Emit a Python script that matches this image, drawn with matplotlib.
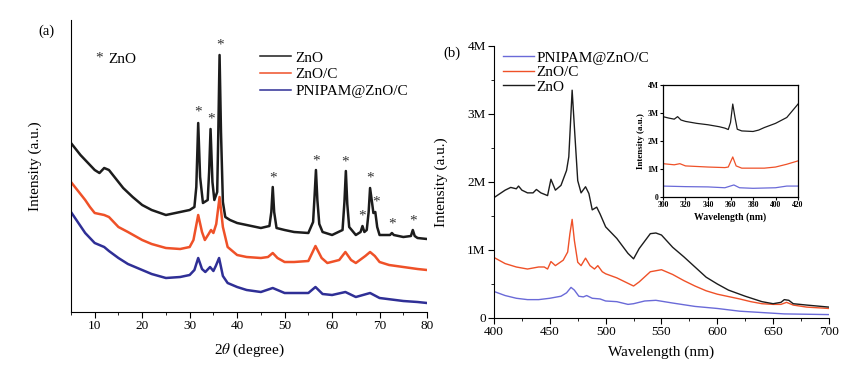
import matplotlib
matplotlib.use("Agg")
import matplotlib.pyplot as plt
from matplotlib.ticker import MultipleLocator, FuncFormatter

plt.rcParams['font.family'] = ['Liberation Serif', 'DejaVu Serif']
plt.rcParams['mathtext.fontset'] = 'stix'

# ---------------- (a) XRD data (arbitrary units) ----------------
xrd_zno_x = [5, 6, 7, 8, 9, 10, 11, 12, 13, 14, 15, 16, 18, 20, 22, 25, 28, 30, 31, 31.4,
             31.8, 32.2, 32.8, 33.8, 34.1, 34.4, 34.8, 35.2, 35.8, 36.0, 36.3, 36.6, 37.0, 37.5,
             38.5, 40, 42, 45, 46.8, 47.2, 47.5, 47.8, 48.3, 50, 52, 55, 56.0, 56.3, 56.6, 56.9,
             57.3, 58, 60, 62.2, 62.6, 62.9, 63.2, 63.6, 65, 66.0, 66.4, 66.8, 67.3, 67.7, 68.0,
             68.4, 68.7, 69.1, 69.5, 70, 72.2, 72.6, 73.0, 75, 76.6, 77.0, 77.4, 78, 80]
xrd_zno_y = [169, 163, 157, 152, 147, 142, 139, 144, 142, 136, 130, 124, 115, 107, 102, 97, 100, 102, 105, 125,
             189, 135, 109, 112, 140, 183, 130, 112, 120, 170, 257, 180, 110, 95,
             92, 89, 87, 84, 86, 100, 125, 100, 84, 82, 80, 79, 90, 115, 142, 112,
             88, 80, 77, 82, 110, 141, 108, 85, 77, 80, 86, 80, 82, 100, 124,
             110, 99, 100, 85, 77, 77, 79, 77, 75, 76, 82, 76, 74, 73]

xrd_znoc_x = [5, 6, 7, 8, 9, 10, 11, 12, 13, 14, 15, 17, 20, 22, 25, 28, 30, 30.8, 31.8, 32.6,
              33.2, 34.0, 34.5, 35.0, 35.6, 36.3, 37.0, 38, 40, 42, 45, 46.5, 47.5, 48.5, 50, 52,
              55, 56.5, 57.8, 59, 61.5, 62.8, 64, 65, 67, 68, 69, 70, 72, 75, 78, 80]
xrd_znoc_y = [130, 124, 118, 112, 105, 99, 98, 97, 95, 90, 85, 80, 72, 68, 64, 63, 65, 72, 97, 80,
              72, 78, 82, 79, 88, 115, 85, 65, 57, 55, 54, 55, 59, 54, 50, 50,
              51, 66, 54, 49, 52, 60, 52, 49, 56, 60, 56, 50, 47, 45, 43, 42]

xrd_pn_x = [5, 6, 7, 8, 9, 10, 11, 12, 13, 15, 17, 20, 22, 25, 28, 30, 31, 31.8, 32.6, 33.3,
            34.3, 35.0, 35.5, 36.2, 37.0, 38, 40, 42, 45, 47.5, 50, 52, 55, 56.5, 58, 60, 62.8,
            65, 68, 70, 75, 78, 80]
xrd_pn_y = [100, 93, 86, 79, 74, 69, 67, 65, 61, 54, 48, 42, 38, 34, 35, 37, 42, 54, 43, 40,
            45, 41, 46, 54, 36, 29, 25, 22, 20, 24, 19, 19, 19, 25, 18, 17, 20,
            15, 19, 14, 11, 10, 9]

star_x = [31.8, 34.5, 36.3, 47.6, 56.6, 62.8, 66.4, 68.0, 69.2, 72.6, 77.0]
star_y = [200, 193, 267, 134, 151, 150, 96, 134, 110, 88, 91]

# ---------------- (b) PL data (intensity, millions) ----------------
pl_zno_x = [400, 410, 415, 420, 422, 425, 430, 435, 438, 442, 448, 451, 455, 460, 465, 467, 470, 472,
            475, 478, 482, 485, 488, 492, 495, 500, 510, 520, 525, 530, 540, 545, 550, 560, 570, 580,
            590, 600, 610, 620, 625, 640, 650, 657, 660, 664, 668, 680, 700]
pl_zno_y = [1.77, 1.88, 1.92, 1.90, 1.94, 1.88, 1.84, 1.84, 1.89, 1.84, 1.80, 2.04, 1.88, 1.95, 2.17, 2.37,
            3.35, 2.81, 2.02, 1.84, 1.93, 1.83, 1.59, 1.63, 1.53, 1.34, 1.17, 0.95, 0.87, 1.02, 1.24,
            1.25, 1.22, 1.04, 0.90, 0.75, 0.60, 0.50, 0.41, 0.35, 0.32, 0.24, 0.21, 0.23, 0.27, 0.26,
            0.21, 0.19, 0.16]

pl_znoc_x = [400, 410, 420, 430, 440, 445, 448, 451, 455, 462, 466, 468, 470, 472, 475, 478, 482, 486,
             490, 493, 497, 500, 510, 520, 525, 530, 540, 550, 560, 570, 580, 590, 600, 620, 630, 640,
             650, 657, 662, 668, 680, 700]
pl_znoc_y = [0.89, 0.80, 0.75, 0.72, 0.75, 0.75, 0.72, 0.83, 0.77, 0.85, 0.97, 1.24, 1.45, 1.14, 0.82,
             0.77, 0.88, 0.77, 0.72, 0.77, 0.68, 0.65, 0.59, 0.51, 0.47, 0.53, 0.68, 0.71, 0.64, 0.55,
             0.47, 0.40, 0.35, 0.28, 0.24, 0.21, 0.20, 0.20, 0.23, 0.19, 0.16, 0.14]

pl_pn_x = [400, 410, 420, 430, 440, 450, 460, 465, 469, 472, 476, 480, 483, 488, 495, 500, 510, 520,
           525, 535, 545, 560, 580, 600, 620, 640, 660, 700]
pl_pn_y = [0.39, 0.33, 0.29, 0.27, 0.27, 0.29, 0.32, 0.37, 0.45, 0.41, 0.32, 0.31, 0.33, 0.29, 0.28,
           0.25, 0.24, 0.20, 0.21, 0.25, 0.26, 0.22, 0.17, 0.14, 0.10, 0.08, 0.06, 0.05]

# inset
in_zno_x = [300, 305, 310, 313, 316, 320, 330, 340, 350, 355, 358, 360, 362, 364, 366, 370, 380, 385,
            390, 400, 410, 420]
in_zno_y = [2.87, 2.82, 2.78, 2.87, 2.75, 2.70, 2.63, 2.58, 2.51, 2.46, 2.41, 2.66, 3.32, 2.84, 2.42,
            2.36, 2.34, 2.39, 2.48, 2.63, 2.84, 3.32]
in_znoc_x = [300, 310, 315, 320, 340, 355, 358, 362, 365, 370, 390, 400, 410, 420]
in_znoc_y = [1.19, 1.15, 1.19, 1.11, 1.07, 1.05, 1.07, 1.43, 1.11, 1.03, 1.03, 1.07, 1.17, 1.29]
in_pn_x = [300, 320, 340, 355, 363, 368, 380, 400, 410, 420]
in_pn_y = [0.39, 0.37, 0.36, 0.33, 0.43, 0.33, 0.31, 0.33, 0.39, 0.39]

labels = ['ZnO', 'ZnO/C', 'PNIPAM@ZnO/C']
c_black = '#1c1c1c'
c_orange = '#ef5128'
c_blue_a = '#2f2f96'
c_blue_b = '#6a6ad8'

M = 1e6
def mfmt(v, pos):
    return '0' if v == 0 else '%dM' % round(v / M)

fig = plt.figure(figsize=(8.57, 3.65), dpi=100)

# ---------------- panel (a) ----------------
ax1 = fig.add_axes([0.0828, 0.1452, 0.4155, 0.80])
ax1.plot(xrd_zno_x, xrd_zno_y, color=c_black, lw=1.8, label=labels[0])
ax1.plot(xrd_znoc_x, xrd_znoc_y, color=c_orange, lw=1.8, label=labels[1])
ax1.plot(xrd_pn_x, xrd_pn_y, color=c_blue_a, lw=1.8, label=labels[2])
for sx, sy in zip(star_x, star_y):
    ax1.text(sx, sy, '*', ha='center', va='center', fontsize=11, color='#333333')
ax1.set_xlim(5, 80)
ax1.set_ylim(0, 292)
ax1.spines['top'].set_visible(False)
ax1.spines['right'].set_visible(False)
ax1.set_yticks([])
ax1.xaxis.set_major_locator(MultipleLocator(10))
ax1.xaxis.set_minor_locator(MultipleLocator(5))
ax1.tick_params(axis='x', which='major', length=4, direction='out', labelsize=9.5, pad=2)
ax1.tick_params(axis='x', which='minor', length=2.5, direction='out')
ax1.set_xlabel(r'2$\theta$ (degree)', fontsize=11)
ax1.xaxis.set_label_coords(0.5, -0.10)
ax1.set_ylabel('Intensity (a.u.)', fontsize=11)
ax1.yaxis.set_label_coords(-0.081, 0.5)
ax1.text(-0.07, 0.96, '(a)', transform=ax1.transAxes, fontsize=10.5, ha='center', va='center')
ax1.text(0.079, 0.87, '*', transform=ax1.transAxes, fontsize=11, ha='center', va='center', color='#333333')
ax1.text(0.104, 0.865, 'ZnO', transform=ax1.transAxes, fontsize=11, ha='left', va='center')
leg1 = ax1.legend(loc='upper left', bbox_to_anchor=(0.51, 0.92), frameon=False, fontsize=11,
                  handlelength=2.0, handletextpad=0.3, labelspacing=0.2, borderpad=0)
for ln in leg1.get_lines():
    ln.set_linewidth(1.1)

# ---------------- panel (b) ----------------
ax2 = fig.add_axes([0.5764, 0.1288, 0.3909, 0.7452])
ax2.plot(pl_pn_x, [v * M for v in pl_pn_y], color=c_blue_b, lw=1.0, label=labels[2])
ax2.plot(pl_znoc_x, [v * M for v in pl_znoc_y], color=c_orange, lw=1.0, label=labels[1])
ax2.plot(pl_zno_x, [v * M for v in pl_zno_y], color=c_black, lw=1.0, label=labels[0])
ax2.set_xlim(400, 700)
ax2.set_ylim(0, 4 * M)
ax2.spines['top'].set_visible(False)
ax2.spines['right'].set_visible(False)
ax2.xaxis.set_major_locator(MultipleLocator(50))
ax2.xaxis.set_minor_locator(MultipleLocator(25))
ax2.yaxis.set_major_locator(MultipleLocator(1 * M))
ax2.yaxis.set_minor_locator(MultipleLocator(0.5 * M))
ax2.yaxis.set_major_formatter(FuncFormatter(mfmt))
ax2.tick_params(which='major', length=4, direction='out', labelsize=9.5, pad=2)
ax2.tick_params(which='minor', length=2.5, direction='out')
ax2.set_xlabel('Wavelength (nm)', fontsize=11)
ax2.xaxis.set_label_coords(0.5, -0.10)
ax2.set_ylabel('Intensity (a.u.)', fontsize=11)
ax2.yaxis.set_label_coords(-0.137, 0.5)
ax2.text(-0.125, 0.975, '(b)', transform=ax2.transAxes, fontsize=10.5, ha='center', va='center')
ax2.legend(loc='upper left', bbox_to_anchor=(0.005, 1.01), frameon=False, fontsize=11,
           handlelength=2.0, handletextpad=0.15, labelspacing=0.05, borderpad=0)

# ---------------- inset ----------------
ax3 = fig.add_axes([0.7736, 0.4603, 0.1576, 0.3068])
ax3.plot(in_zno_x, [v * M for v in in_zno_y], color=c_black, lw=0.9)
ax3.plot(in_znoc_x, [v * M for v in in_znoc_y], color=c_orange, lw=0.9)
ax3.plot(in_pn_x, [v * M for v in in_pn_y], color=c_blue_b, lw=0.9)
ax3.set_xlim(300, 420)
ax3.set_ylim(0, 4 * M)
ax3.xaxis.set_major_locator(MultipleLocator(20))
ax3.yaxis.set_major_locator(MultipleLocator(1 * M))
ax3.yaxis.set_major_formatter(FuncFormatter(mfmt))
ax3.tick_params(which='major', length=2, direction='out', labelsize=5.5, pad=1)
for lab in ax3.get_xticklabels() + ax3.get_yticklabels():
    lab.set_fontweight('bold')
ax3.set_xlabel('Wavelength (nm)', fontsize=7, fontweight='bold', labelpad=2)
ax3.set_ylabel('Intensity (a.u.)', fontsize=6.5, fontweight='bold', labelpad=2)
for sp in ax3.spines.values():
    sp.set_linewidth(0.9)

fig.savefig('out.png', dpi=100)
